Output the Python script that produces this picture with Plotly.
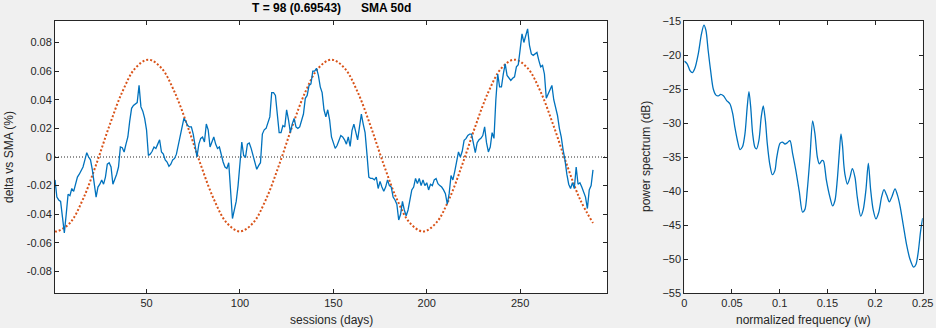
import plotly.graph_objects as go

# ---- price deviation from 50-day SMA (fraction), one value per session ----
sessions = list(range(1, 290))
delta = [
    -0.016, -0.028, -0.030, -0.031, -0.042, -0.053, -0.040, -0.026, -0.027, -0.022,
    -0.024, -0.019, -0.014, -0.012, -0.009, -0.007, -0.002, 0.003, 0.000, -0.002,
    -0.009, -0.019, -0.028, -0.021, -0.019, -0.016, -0.019, -0.014, -0.005, -0.004,
    -0.007, -0.019, -0.016, -0.012, -0.007, 0.007, 0.0065, 0.0035, 0.009, 0.014,
    0.025, 0.034, 0.036, 0.037, 0.038, 0.050, 0.035, 0.032, 0.027, 0.019,
    0.001, 0.002, 0.004, 0.007, 0.006, 0.009, 0.012, 0.0035, 0.002, -0.002,
    -0.0035, -0.0065, -0.005, -0.002, -0.001, 0.002, 0.008, 0.016, 0.021, 0.027,
    0.025, 0.022, 0.021, 0.021, 0.016, 0.007, 0.000, 0.009, 0.013, 0.014,
    0.0105, 0.023, 0.019, 0.007, 0.0105, 0.014, 0.009, 0.006, 0.007, 0.001,
    -0.0035, -0.007, -0.008, -0.004, -0.028, -0.043, -0.037, -0.031, -0.020, -0.005,
    0.0105, 0.001, 0.000, 0.009, 0.0098, 0.006, 0.001, -0.0023, -0.0086, -0.006,
    -0.004, 0.016, 0.019, 0.020, 0.024, 0.028, 0.045, 0.045, 0.043, 0.028,
    0.017, 0.017, 0.022, 0.021, 0.033, 0.026, 0.017, 0.023, 0.027, 0.021,
    0.020, 0.021, 0.026, 0.030, 0.041, 0.043, 0.050, 0.051, 0.060, 0.060,
    0.062, 0.057, 0.049, 0.045, 0.033, 0.028, 0.033, 0.026, 0.014, 0.009,
    0.006, 0.008, 0.012, 0.015, 0.014, 0.012, 0.009, 0.014, 0.0074, 0.0186,
    0.023, 0.017, 0.012, 0.021, 0.030, 0.023, 0.017, 0.002, -0.014, -0.015,
    -0.015, -0.016, -0.014, -0.022, -0.017, -0.021, -0.024, -0.021, -0.016, -0.020,
    -0.021, -0.028, -0.030, -0.033, -0.044, -0.040, -0.031, -0.037, -0.041, -0.037,
    -0.030, -0.023, -0.021, -0.015, -0.0186, -0.015, -0.020, -0.016, -0.020, -0.018,
    -0.023, -0.019, -0.020, -0.016, -0.015, -0.0186, -0.020, -0.021, -0.023, -0.0256,
    -0.033, -0.0256, -0.013, -0.016, -0.010, -0.004, 0.0035, 0.000, 0.004, 0.0116,
    0.0128, 0.015, 0.016, 0.016, 0.0105, 0.003, 0.010, 0.012, 0.013, 0.015,
    0.021, 0.010, 0.0035, 0.007, 0.017, 0.013, 0.040, 0.058, 0.049, 0.049,
    0.058, 0.065, 0.057, 0.055, 0.0535, 0.055, 0.056, 0.063, 0.0645, 0.075,
    0.086, 0.080, 0.084, 0.0895, 0.078, 0.072, 0.071, 0.072, 0.073, 0.0675,
    0.063, 0.064, 0.058, 0.041, 0.044, 0.047, 0.050, 0.040, 0.034, 0.029,
    0.020, 0.014, 0.005, -0.002, -0.012, -0.019, -0.022, -0.018, -0.022, -0.007,
    -0.019, -0.018, -0.021, -0.024, -0.028, -0.036, -0.023, -0.020, -0.009,
]

# ---- fitted cycle (T = 98 sessions), sampled every 7 sessions ----
fit_sessions = [1] + list(range(2, 290, 7))
fit_values = [-0.0518] + [
    -0.0520, -0.0461, -0.0294, -0.0054, 0.0214, 0.0454, 0.0621,
    0.0680, 0.0621, 0.0454, 0.0214, -0.0054, -0.0294, -0.0461,
    -0.0520, -0.0461, -0.0294, -0.0054, 0.0214, 0.0454, 0.0621,
    0.0680, 0.0621, 0.0454, 0.0214, -0.0054, -0.0294, -0.0461,
    -0.0520, -0.0461, -0.0294, -0.0054, 0.0214, 0.0454, 0.0621,
    0.0680, 0.0621, 0.0454, 0.0214, -0.0054, -0.0294, -0.0461,
]

# ---- power spectrum ----
freq = [
    0.000, 0.003, 0.006, 0.0084, 0.011, 0.0147, 0.018, 0.0206, 0.0227, 0.025,
    0.0276, 0.0304, 0.0332, 0.0357, 0.0381, 0.041, 0.0444, 0.0479, 0.0507, 0.053,
    0.0556, 0.0584, 0.061, 0.0636, 0.066, 0.0678, 0.0696, 0.0717, 0.0741, 0.0758,
    0.0783, 0.0807, 0.0828, 0.085, 0.087, 0.0898, 0.0923, 0.095, 0.0968, 0.1003,
    0.1028, 0.1056, 0.108, 0.1108, 0.1136, 0.117, 0.1206, 0.124, 0.1265, 0.129,
    0.1318, 0.1346, 0.137, 0.1395, 0.1416, 0.1445, 0.146, 0.149, 0.1527, 0.1555,
    0.158, 0.1604, 0.1625, 0.1643, 0.166, 0.1672, 0.1685, 0.171, 0.1737, 0.1762,
    0.179, 0.1814, 0.185, 0.1877, 0.1905, 0.193, 0.1954, 0.198, 0.201, 0.2038,
    0.207, 0.2094, 0.2122, 0.215, 0.2178, 0.221, 0.2233, 0.2261, 0.2296, 0.2331,
    0.2366, 0.2405, 0.2429, 0.2454, 0.2478, 0.25,
]
power_db = [
    -20.9, -21.3, -22.3, -22.6, -22.0, -19.8, -16.9, -15.6, -16.4, -19.3,
    -22.3, -25.0, -25.9, -26.0, -25.8, -26.0, -26.7, -27.2, -28.6, -30.6,
    -32.5, -33.9, -33.5, -31.6, -27.6, -25.4, -27.6, -31.6, -33.6, -33.8,
    -32.5, -29.1, -27.5, -29.6, -33.0, -36.2, -37.6, -37.0, -35.2, -33.0,
    -32.8, -33.1, -32.9, -32.6, -34.5, -37.0, -40.1, -43.1, -42.7, -39.8,
    -35.0, -29.7, -31.6, -35.0, -36.0, -35.5, -35.6, -38.4, -40.9, -42.2,
    -41.4, -38.4, -34.5, -31.6, -33.5, -36.0, -37.6, -39.0, -38.0, -36.7,
    -38.0, -40.9, -43.7, -42.7, -39.8, -35.9, -39.8, -42.7, -44.1, -43.2,
    -40.8, -39.8, -40.6, -41.6, -40.8, -39.7, -40.5, -42.1, -45.0, -47.9,
    -50.0, -51.2, -50.8, -48.9, -45.9, -44.0,
]

# ---- tick labels ----
left_xticks = [50, 100, 150, 200, 250]
left_yticks = [-0.08, -0.06, -0.04, -0.02, 0, 0.02, 0.04, 0.06, 0.08]
left_ytext = ["-0.08", "-0.06", "-0.04", "-0.02", "0", "0.02", "0.04", "0.06", "0.08"]
right_xticks = [0, 0.05, 0.1, 0.15, 0.2, 0.25]
right_xtext = ["0", "0.05", "0.1", "0.15", "0.2", "0.25"]
right_yticks = [-55, -50, -45, -40, -35, -30, -25, -20, -15]

W, H = 936, 328
BLUE = "#0072BD"
ORANGE = "#D95319"
INK = "#262626"
FONT = "Liberation Sans, Arial, sans-serif"

fig = go.Figure()

fig.add_trace(go.Scatter(
    x=[1, 296.5], y=[0, 0], mode="lines",
    line=dict(color=INK, width=1, dash="1px,2px"),
    xaxis="x", yaxis="y", hoverinfo="skip", showlegend=False,
))
fig.add_trace(go.Scatter(
    x=fit_sessions, y=fit_values, mode="lines", line_shape="spline",
    line=dict(color=ORANGE, width=2, dash="2px,2px"),
    xaxis="x", yaxis="y", showlegend=False,
))
fig.add_trace(go.Scatter(
    x=sessions, y=delta, mode="lines",
    line=dict(color=BLUE, width=1.3),
    xaxis="x", yaxis="y", showlegend=False,
))
fig.add_trace(go.Scatter(
    x=freq, y=power_db, mode="lines", line_shape="spline",
    line=dict(color=BLUE, width=1.3, smoothing=0.8),
    xaxis="x2", yaxis="y2", showlegend=False,
))

axis_common = dict(
    showline=True, linecolor=INK, linewidth=1, mirror="allticks",
    ticks="inside", ticklen=4, tickcolor=INK, tickwidth=1,
    showgrid=False, zeroline=False, automargin=False,
    tickfont=dict(family=FONT, size=11, color=INK),
)

y_dom = [1 - 293 / H, 1 - 21 / H]

fig.update_layout(
    width=W, height=H, autosize=False,
    margin=dict(l=0, r=0, t=0, b=0, pad=0),
    paper_bgcolor="#f0f0f0",
    plot_bgcolor="#ffffff",
    font=dict(family=FONT, size=11, color=INK),
    xaxis=dict(domain=[55 / W, 607 / W], range=[1, 296.5],
               tickvals=left_xticks, anchor="y", **axis_common),
    yaxis=dict(domain=y_dom, range=[-0.095, 0.095],
               tickvals=left_yticks, ticktext=left_ytext, anchor="x", **axis_common),
    xaxis2=dict(domain=[684.3 / W, 922.7 / W], range=[0, 0.25],
                tickvals=right_xticks, ticktext=right_xtext, anchor="y2", **axis_common),
    yaxis2=dict(domain=y_dom, range=[-55, -15],
                tickvals=right_yticks, anchor="x2", **axis_common),
    annotations=[
        dict(text="<b>T = 98 (0.69543)      SMA 50d</b>", x=331 / W, y=1 - 8 / H,
             xref="paper", yref="paper", xanchor="center", yanchor="middle",
             showarrow=False, font=dict(family=FONT, size=12, color="#000000")),
        dict(text="sessions (days)", x=331 / W, y=1 - 320 / H,
             xref="paper", yref="paper", xanchor="center", yanchor="middle",
             showarrow=False, font=dict(family=FONT, size=12, color=INK)),
        dict(text="normalized frequency (w)", x=803.5 / W, y=1 - 320 / H,
             xref="paper", yref="paper", xanchor="center", yanchor="middle",
             showarrow=False, font=dict(family=FONT, size=12, color=INK)),
        dict(text="delta vs SMA (%)", x=9 / W, y=1 - 157 / H, textangle=-90,
             xref="paper", yref="paper", xanchor="center", yanchor="middle",
             showarrow=False, font=dict(family=FONT, size=12, color=INK)),
        dict(text="power spectrum (dB)", x=646 / W, y=1 - 157 / H, textangle=-90,
             xref="paper", yref="paper", xanchor="center", yanchor="middle",
             showarrow=False, font=dict(family=FONT, size=12, color=INK)),
    ],
)

# page body without default margins so the figure sits at the window origin
fig.write_html(
    "out.html",
    post_script="document.body.style.margin='0';document.body.style.padding='0';"
                "document.body.style.overflow='hidden';",
)
